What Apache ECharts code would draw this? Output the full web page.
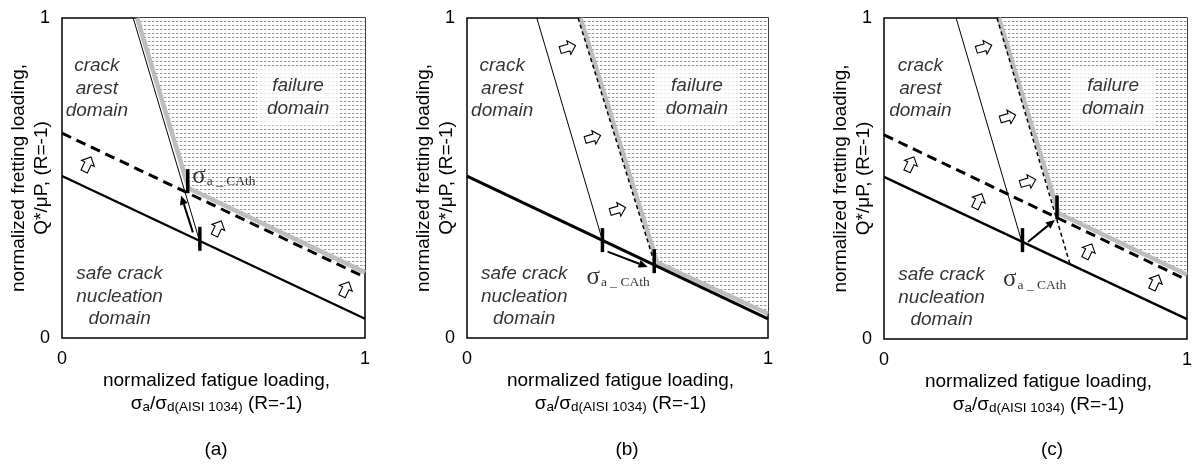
<!DOCTYPE html>
<html><head><meta charset="utf-8">
<script src="https://cdn.jsdelivr.net/npm/echarts@6/dist/echarts.min.js"></script>
<style>html,body{margin:0;padding:0;background:#fff}#c{width:1194px;height:466px}</style>
</head><body><div id="c"></div>
<script>
// ---------------- data ----------------
const axisTicks = [0, 1];
const panelLabels = ['(a)', '(b)', '(c)'];
const xTitleLine1 = 'normalized fatigue loading,';
const yTitleLine1 = 'normalized fretting loading,';
const yTitleLine2 = 'Q*/μP, (R=-1)';
const regionArrest = 'crack\narest\ndomain';
const regionFailure = 'failure\ndomain';
const regionSafe = 'safe crack\nnucleation\ndomain';

// panel (a)
const aNucleation = [[0, 0.506], [1, 0.06]];
const aShifted = [[0, 0.64], [1, 0.19]];
const aArrest = [[0.235, 1], [0.455, 0.30]];
const aBoundary = [[0.248, 1], [0.418, 0.468], [1, 0.205]];
const aFailure = [[0.25, 1], [1, 1], [1, 0.21], [0.42, 0.472]];
const aTicks = [[0.415, 0.49], [0.455, 0.31]];
const aMoves = [[0.432, 0.33, 0.393, 0.445]];
const aArrowsUp = [[0.083, 0.54], [0.513, 0.34], [0.934, 0.15]];
const aSigma = [0.43, 0.506];
const aTextArrest = [0.115, 0.78];
const aTextFailure = [0.779, 0.753];
const aTextSafe = [0.19, 0.13];

// panel (b)
const bNucleation = [[0, 0.506], [1, 0.06]];
const bArrest = [[0.232, 1], [0.45, 0.305]];
const bArrestShifted = [[0.369, 1], [0.625, 0.228]];
const bBoundary = [[0.377, 1], [0.632, 0.236], [1, 0.076]];
const bFailure = [[0.38, 1], [1, 1], [1, 0.08], [0.636, 0.24]];
const bTicks = [[0.45, 0.306], [0.622, 0.24]];
const bMoves = [[0.467, 0.27, 0.60, 0.222]];
const bArrowsRight = [[0.332, 0.906], [0.415, 0.625], [0.498, 0.40]];
const bSigma = [0.397, 0.19];
const bTextArrest = [0.117, 0.78];
const bTextFailure = [0.764, 0.753];
const bTextSafe = [0.19, 0.13];

// panel (c)
const cNucleation = [[0, 0.505], [1, 0.062]];
const cShifted = [[0, 0.636], [1, 0.184]];
const cArrest = [[0.238, 1], [0.455, 0.302]];
const cArrestShifted = [[0.373, 1], [0.614, 0.233]];
const cBoundary = [[0.379, 1], [0.576, 0.392], [1, 0.2]];
const cFailure = [[0.383, 1], [1, 1], [1, 0.205], [0.58, 0.396]];
const cTicks = [[0.457, 0.308], [0.571, 0.41]];
const cMoves = [[0.475, 0.302, 0.564, 0.371]];
const cArrowsUp = [[0.086, 0.542], [0.31, 0.427], [0.673, 0.271], [0.894, 0.174]];
const cArrowsRight = [[0.327, 0.907], [0.406, 0.69], [0.472, 0.489]];
const cSigma = [0.393, 0.184];
const cTextArrest = [0.12, 0.78];
const cTextFailure = [0.756, 0.753];
const cTextSafe = [0.19, 0.13];

// ---------------- rendering ----------------
const SANS = 'Liberation Sans, Arial, sans-serif';
const SERIF = 'Liberation Serif, Times New Roman, serif';
const FS = 19;

function makePattern() {
  const c = document.createElement('canvas'); c.width = 4; c.height = 4;
  const g = c.getContext('2d');
  g.fillStyle = '#fff'; g.fillRect(0, 0, 4, 4);
  g.fillStyle = '#939393'; g.fillRect(0, 1, 2, 1);
  g.fillStyle = '#dcdcdc'; g.fillRect(2, 1, 1, 1);
  return c;
}
const pat = makePattern();

const grids = [
  {left: 62, top: 18, width: 303, height: 320},
  {left: 467, top: 18, width: 301, height: 320},
  {left: 884, top: 18, width: 303, height: 321}
];

function lineS(i, data, width, color, type, z) {
  return {type: 'line', xAxisIndex: i, yAxisIndex: i, data: data, symbol: 'none', silent: true,
    z: z || 3, lineStyle: {width: width, color: color, type: type || 'solid', cap: 'butt'}};
}
function polygonS(i, pts) {
  return {type: 'custom', xAxisIndex: i, yAxisIndex: i, data: [0], silent: true, z: 1,
    renderItem: (p, api) => ({type: 'polygon', shape: {points: pts.map(q => api.coord(q))},
      style: {fill: {image: pat, repeat: 'repeat'}}})};
}
function ticksS(i, data) {
  return {type: 'custom', xAxisIndex: i, yAxisIndex: i, data: data, silent: true, z: 6,
    renderItem: (p, api) => {
      const c = api.coord([api.value(0), api.value(1)]);
      return {type: 'line', shape: {x1: c[0], y1: c[1] - 12, x2: c[0], y2: c[1] + 12},
        style: {stroke: '#000', lineWidth: 3.5}};
    }};
}
function movesS(i, data) {
  return {type: 'custom', xAxisIndex: i, yAxisIndex: i, data: data, silent: true, z: 7,
    renderItem: (p, api) => {
      const a = api.coord([api.value(0), api.value(1)]), b = api.coord([api.value(2), api.value(3)]);
      const dx = b[0] - a[0], dy = b[1] - a[1], L = Math.hypot(dx, dy), ux = dx / L, uy = dy / L;
      const hl = 9, hw = 4, bx = b[0] - ux * hl, by = b[1] - uy * hl;
      return {type: 'group', children: [
        {type: 'line', shape: {x1: a[0], y1: a[1], x2: bx, y2: by}, style: {stroke: '#000', lineWidth: 2}},
        {type: 'polygon', shape: {points: [[b[0], b[1]], [bx - uy * hw, by + ux * hw], [bx + uy * hw, by - ux * hw]]},
          style: {fill: '#000'}}
      ]};
    }};
}
function hollowS(i, data, ref) {
  return {type: 'custom', xAxisIndex: i, yAxisIndex: i, data: data, silent: true, z: 8,
    renderItem: (p, api) => {
      const c = api.coord([api.value(0), api.value(1)]);
      const p0 = api.coord(ref[0]), p1 = api.coord(ref[ref.length - 1]);
      let dx = p1[0] - p0[0], dy = p1[1] - p0[1]; const L = Math.hypot(dx, dy); dx /= L; dy /= L;
      const nx = dy, ny = -dx;
      const pts = [[9, 0], [2, 7], [2, 3.5], [-7, 3.5], [-7, -3.5], [2, -3.5], [2, -7]]
        .map(([u, v]) => [c[0] + u * nx + v * dx, c[1] + u * ny + v * dy]);
      return {type: 'polygon', shape: {points: pts}, style: {fill: '#fff', stroke: '#000', lineWidth: 1.1}};
    }};
}
function textS(i, pos, txt, extra) {
  return {type: 'scatter', xAxisIndex: i, yAxisIndex: i, silent: true, z: 9, symbolSize: 1,
    itemStyle: {color: 'rgba(0,0,0,0)'},
    data: [{value: pos, name: txt}],
    label: Object.assign({show: true, position: 'inside', formatter: '{b}', color: '#000',
      fontFamily: SANS, fontStyle: 'italic', fontSize: FS, lineHeight: 22.5, align: 'center', verticalAlign: 'middle'}, extra || {})};
}
function sigmaS(i, pos) {
  return {type: 'scatter', xAxisIndex: i, yAxisIndex: i, silent: true, z: 9, symbolSize: 1,
    itemStyle: {color: 'rgba(0,0,0,0)'},
    data: [{value: pos, name: 's'}],
    label: {show: true, position: 'inside', align: 'left', verticalAlign: 'middle',
      formatter: '{g|σ}{s|a _ CAth}',
      rich: {g: {fontFamily: SERIF, fontSize: 25, color: '#000', verticalAlign: 'bottom'},
             s: {fontFamily: SERIF, fontSize: 13.5, color: '#000', verticalAlign: 'bottom', padding: [0, 0, 0, 1]}}}};
}

const xAxes = [], yAxes = [], series = [];
const xName = xTitleLine1 + '\n{n|σ}{s|a}{n|/σ}{s|d(AISI 1034)}{n| (R=-1)}';
grids.forEach((g, i) => {
  xAxes.push({type: 'value', gridIndex: i, min: axisTicks[0], max: axisTicks[1], interval: 1,
    axisLine: {show: false}, axisTick: {show: false}, splitLine: {show: false},
    axisLabel: {fontSize: 18, color: '#000', fontFamily: SANS, margin: 12},
    name: xName, nameLocation: 'middle', nameGap: 31, nameMoveOverlap: false,
    nameTextStyle: {fontSize: FS, color: '#000', fontFamily: SANS, lineHeight: 23, padding: [0, 0, 0, 6],
      rich: {n: {fontSize: FS, fontFamily: SANS, color: '#000'},
             s: {fontSize: 13.5, fontFamily: SANS, color: '#000', padding: [8, 0, 0, 0]}}}});
  yAxes.push({type: 'value', gridIndex: i, min: axisTicks[0], max: axisTicks[1], interval: 1,
    axisLine: {show: false}, axisTick: {show: false}, splitLine: {show: false},
    axisLabel: {fontSize: 18, color: '#000', fontFamily: SANS, margin: 12},
    name: yTitleLine1 + '\n' + yTitleLine2, nameLocation: 'middle', nameRotate: 90, nameGap: 9, nameMoveOverlap: false,
    nameTextStyle: {fontSize: FS, color: '#000', fontFamily: SANS, lineHeight: 23}});
});

// panel a
series.push(polygonS(0, aFailure));
series.push(lineS(0, aBoundary, 4.5, '#bdbdbd', 'solid', 2));
series.push(lineS(0, aNucleation, 2.3, '#000'));
series.push(lineS(0, aShifted, 3, '#000', [10, 6]));
series.push(lineS(0, aArrest, 1, '#000'));
series.push(ticksS(0, aTicks));
series.push(movesS(0, aMoves));
series.push(hollowS(0, aArrowsUp, aNucleation));
series.push(textS(0, aTextArrest, regionArrest));
series.push(textS(0, aTextFailure, regionFailure, {backgroundColor: '#fff', padding: [6, 10]}));
series.push(textS(0, aTextSafe, regionSafe));
series.push(sigmaS(0, aSigma));

// panel b
series.push(polygonS(1, bFailure));
series.push(lineS(1, bBoundary, 4.5, '#bdbdbd', 'solid', 2));
series.push(lineS(1, bNucleation, 3, '#000'));
series.push(lineS(1, bArrest, 1, '#000'));
series.push(lineS(1, bArrestShifted, 1.5, '#000', [4, 3]));
series.push(ticksS(1, bTicks));
series.push(movesS(1, bMoves));
series.push(hollowS(1, bArrowsRight, bArrest));
series.push(textS(1, bTextArrest, regionArrest));
series.push(textS(1, bTextFailure, regionFailure, {backgroundColor: '#fff', padding: [6, 10]}));
series.push(textS(1, bTextSafe, regionSafe));
series.push(sigmaS(1, bSigma));

// panel c
series.push(polygonS(2, cFailure));
series.push(lineS(2, cBoundary, 4.5, '#bdbdbd', 'solid', 2));
series.push(lineS(2, cNucleation, 2.3, '#000'));
series.push(lineS(2, cShifted, 3, '#000', [10, 6]));
series.push(lineS(2, cArrest, 1, '#000'));
series.push(lineS(2, cArrestShifted, 1.5, '#000', [4, 3]));
series.push(ticksS(2, cTicks));
series.push(movesS(2, cMoves));
series.push(hollowS(2, cArrowsUp, cNucleation));
series.push(hollowS(2, cArrowsRight, cArrest));
series.push(textS(2, cTextArrest, regionArrest));
series.push(textS(2, cTextFailure, regionFailure, {backgroundColor: '#fff', padding: [6, 10]}));
series.push(textS(2, cTextSafe, regionSafe));
series.push(sigmaS(2, cSigma));

const panelX = [216, 627, 1052];
const chart = echarts.init(document.getElementById('c'), null, {renderer: 'canvas'});
chart.setOption({
  animation: false,
  backgroundColor: '#fff',
  grid: grids.map(g => Object.assign({show: true, borderColor: '#000', borderWidth: 1.5,
    backgroundColor: 'transparent', containLabel: false, outerBoundsMode: 'none'}, g)),
  xAxis: xAxes, yAxis: yAxes, series: series,
  graphic: panelLabels.map((t, i) => ({type: 'text', x: panelX[i], y: 450,
    style: {text: t, fontSize: FS, fontFamily: SANS, fill: '#000', align: 'center', verticalAlign: 'middle'}}))
});
</script></body></html>
